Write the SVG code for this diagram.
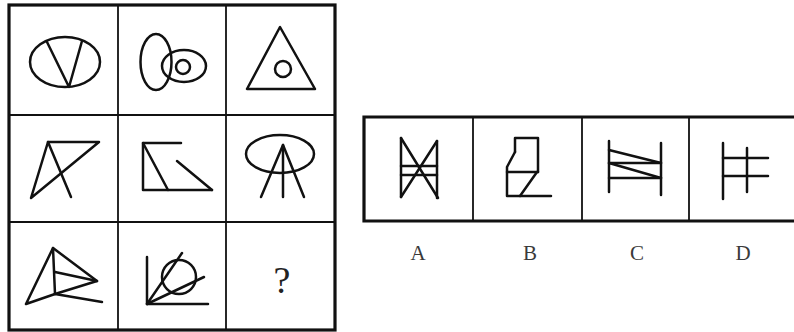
<svg xmlns="http://www.w3.org/2000/svg" width="794" height="332" viewBox="0 0 794 332">
<style>
.f{fill:none;stroke:#111;stroke-width:2.5;stroke-linecap:round;stroke-linejoin:round}
.thin{fill:none;stroke:#111;stroke-width:1.8}
.thick{fill:none;stroke:#111;stroke-width:3.2}
.lbl{font-family:"Liberation Serif",serif;font-size:21px;fill:#3a3a3a;text-anchor:middle}
</style>
<rect width="794" height="332" fill="#fff"/>
<g id="grid">
<line class="thin" x1="118" y1="5" x2="118" y2="330"/>
<line class="thin" x1="226" y1="5" x2="226" y2="330"/>
<line class="thin" x1="9" y1="115" x2="335" y2="115"/>
<line class="thin" x1="9" y1="222" x2="335" y2="222"/>
<rect class="thick" x="9" y="5" width="326" height="325"/>
</g>
<g id="cell1" class="f">
<ellipse cx="65" cy="62" rx="35" ry="25"/>
<polyline points="47,42 69,87 82,41"/>
</g>
<g id="cell2" class="f">
<ellipse cx="156" cy="62" rx="15.5" ry="28"/>
<ellipse cx="184" cy="66" rx="22" ry="16"/>
<circle cx="183" cy="67" r="7"/>
</g>
<g id="cell3" class="f">
<polygon points="280,27 247,89 315,89"/>
<circle cx="283" cy="69" r="8"/>
</g>
<g id="cell4" class="f">
<polygon points="48,142 99,142 31,198"/>
<line x1="48" y1="142" x2="71" y2="197"/>
</g>
<g id="cell5" class="f">
<polyline points="181,143 143,143 143,190 212,190"/>
<line x1="143" y1="143" x2="168" y2="190"/>
<line x1="177" y1="161" x2="212" y2="190"/>
</g>
<g id="cell6" class="f">
<ellipse cx="280" cy="154" rx="34" ry="19"/>
<polyline points="261,197 283,145 304,197"/>
<line x1="283" y1="145" x2="283" y2="197"/>
</g>
<g id="cell7" class="f">
<polygon points="53,248 26,304 55,294 97,281"/>
<line x1="53" y1="248" x2="55" y2="294"/>
<line x1="55" y1="272" x2="97" y2="281"/>
<line x1="55" y1="294" x2="102" y2="302"/>
</g>
<g id="cell8" class="f">
<polyline points="147,257 147,304 208,304"/>
<circle cx="179" cy="277" r="17"/>
<line x1="147" y1="304" x2="182" y2="253"/>
<line x1="147" y1="304" x2="204" y2="277"/>
</g>
<g id="cell9">
<text x="282" y="293" font-family="Liberation Serif, serif" font-size="38" fill="#222" text-anchor="middle">?</text>
</g>
<g id="options">
<line class="thin" x1="473" y1="117" x2="473" y2="221"/>
<line class="thin" x1="582" y1="117" x2="582" y2="221"/>
<line class="thin" x1="689" y1="117" x2="689" y2="221"/>
<polyline class="thick" points="796,117 364,117 364,221 796,221"/>
</g>
<g id="optA" class="f">
<line x1="401" y1="138" x2="401" y2="197"/>
<line x1="437" y1="141" x2="437" y2="198"/>
<line x1="401" y1="138" x2="438" y2="198"/>
<line x1="401" y1="197" x2="437" y2="141"/>
<line x1="401" y1="166" x2="437" y2="166"/>
<line x1="401" y1="175" x2="437" y2="175"/>
</g>
<g id="optB" class="f">
<polyline points="515,152 515,138 538,138 538,172"/>
<polyline points="515,152 507,167 507,196 551,196"/>
<line x1="507" y1="172" x2="538" y2="172"/>
<line x1="537" y1="172" x2="520" y2="196"/>
</g>
<g id="optC" class="f">
<line x1="609" y1="141" x2="609" y2="192"/>
<line x1="661" y1="143" x2="661" y2="195"/>
<line x1="609" y1="150" x2="661" y2="163"/>
<line x1="609" y1="163" x2="661" y2="163"/>
<line x1="609" y1="163" x2="661" y2="178"/>
<line x1="609" y1="178" x2="661" y2="178"/>
</g>
<g id="optD" class="f">
<line x1="723" y1="143" x2="723" y2="199"/>
<line x1="747" y1="148" x2="747" y2="192"/>
<line x1="723" y1="158" x2="768" y2="158"/>
<line x1="723" y1="176" x2="768" y2="176"/>
</g>
<g id="labels">
<text class="lbl" x="418" y="260">A</text>
<text class="lbl" x="530" y="260">B</text>
<text class="lbl" x="637" y="260">C</text>
<text class="lbl" x="743" y="260">D</text>
</g>
</svg>
